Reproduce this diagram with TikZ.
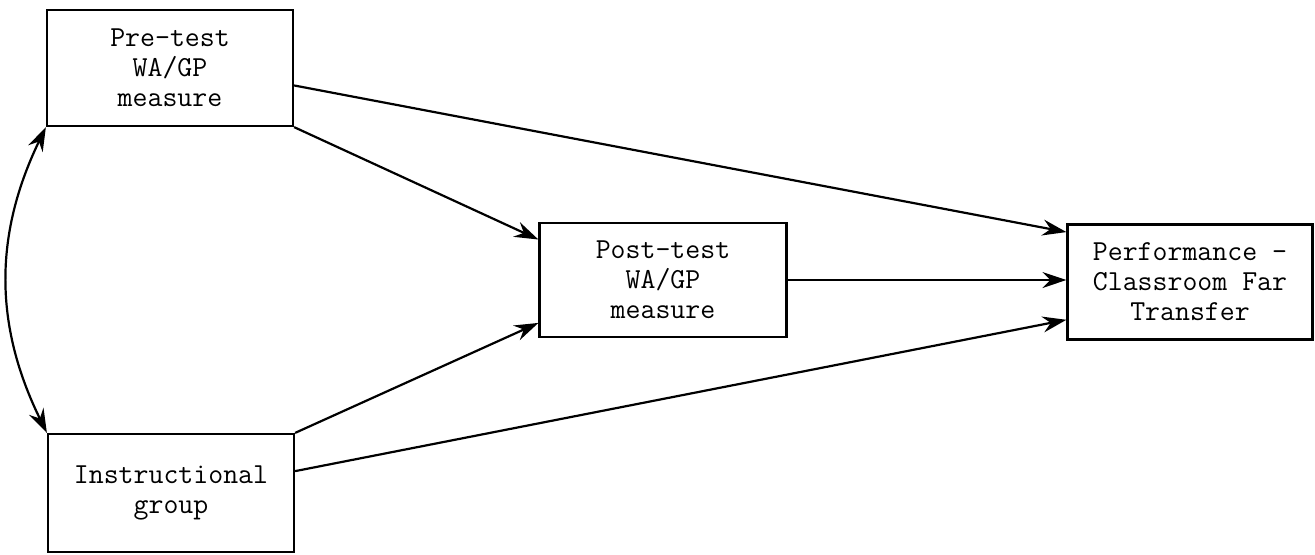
\documentclass[tikz,border=0pt]{standalone}
\usepackage{tikz}
\usetikzlibrary{arrows,arrows.meta,shapes}

\begin{document}
\begin{tikzpicture}[x=0.5pt,y=-0.5pt,->,>={Stealth[length=12pt,width=8pt,inset=4pt]},
            line width=1.1pt,
            box/.style={draw,rectangle,align=center,inner sep=0pt,
                font=\ttfamily\fontsize{14.5}{15}\selectfont},
            auto]
            \useasboundingbox (0,0) rectangle (1315,554);
            \node[box,minimum width=123pt,minimum height=58pt] (pre) at (170,68) {Pre-test\\WA/GP\\measure};
            \node[box,minimum width=123pt,minimum height=59pt] (inst) at (171,493) {Instructional\\group};
            \node[box,minimum width=123.5pt,minimum height=57pt] (post) at (663,280) {Post-test\\WA/GP\\measure};
            \node[box,minimum width=122.5pt,minimum height=57.5pt] (perf) at (1190,282) {Performance -\\Classroom Far\\Transfer};

            \path (pre.-8) edge             (perf.158)
                  (pre.south east) edge     (post.162)
                  (post.east) edge          (perf.west |- post.east)
                  (inst.north east) edge    (post.199)
                  (inst.10) edge            (perf.197)
                  (pre.south west) edge [<->,bend right=26] (inst.north west);
        \end{tikzpicture}
\end{document}
